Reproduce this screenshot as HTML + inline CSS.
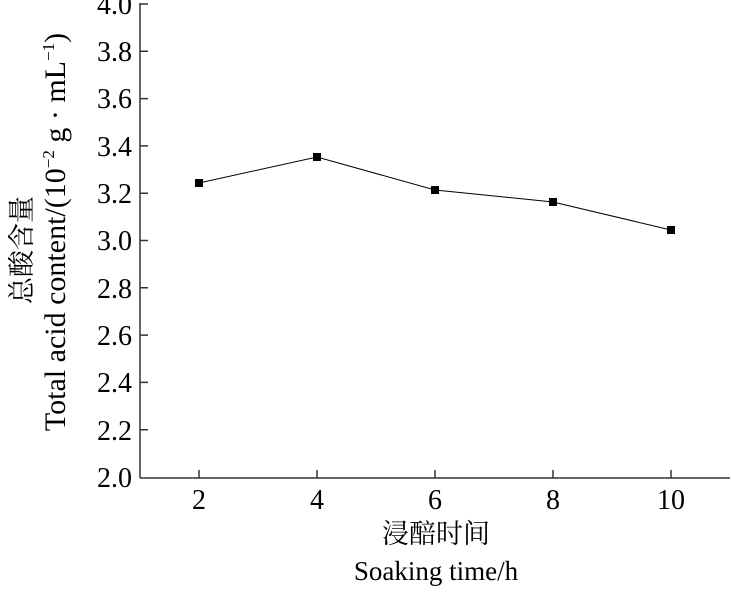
<!DOCTYPE html>
<html><head><meta charset="utf-8"><style>body{margin:0;background:#fff} svg{font-family:"Liberation Serif","Noto Serif CJK SC",serif}</style></head><body>
<svg width="731" height="587" xmlns="http://www.w3.org/2000/svg" font-size="27" fill="#000">
<g stroke="#333" stroke-width="1.5" fill="none">
<line x1="140" y1="3" x2="140" y2="478"/>
<line x1="140" y1="478" x2="730" y2="478"/>
<path d="M140 4h8M140 51.3h8M140 98.6h8M140 145.9h8M140 193.2h8M140 240.5h8M140 287.8h8M140 335.1h8M140 382.4h8M140 429.7h8"/>
<path d="M199 478v-8M317 478v-8M435 478v-8M553 478v-8M671 478v-8"/>
</g>
<g text-anchor="end" font-size="28">
<text x="132" y="14">4.0</text><text x="132" y="61">3.8</text><text x="132" y="108">3.6</text><text x="132" y="156">3.4</text><text x="132" y="203">3.2</text><text x="132" y="250">3.0</text><text x="132" y="298">2.8</text><text x="132" y="345">2.6</text><text x="132" y="392">2.4</text><text x="132" y="440">2.2</text><text x="132" y="487">2.0</text>
</g>
<g text-anchor="middle">
<text x="199" y="509" font-size="28">2</text><text x="317" y="509" font-size="28">4</text><text x="435" y="509" font-size="28">6</text><text x="553" y="509" font-size="28">8</text><text x="671" y="509" font-size="28">10</text>
<text x="436" y="543">浸醅时间</text>
<text x="436" y="580">Soaking time/h</text>
</g>
<polyline points="199,183 317,157 435,190 553,202 671,230" stroke="#000" stroke-width="1" fill="none"/>
<g><rect x="195" y="179" width="8" height="8"/><rect x="313" y="153" width="8" height="8"/><rect x="431" y="186" width="8" height="8"/><rect x="549" y="198" width="8" height="8"/><rect x="667" y="226" width="8" height="8"/></g>
<text transform="translate(31,250) rotate(-90)" text-anchor="middle">总酸含量</text>
<text transform="translate(65,232) rotate(-90)" text-anchor="middle" font-size="30">Total acid content/(10<tspan font-size="17" dy="-11">−2</tspan><tspan dy="11"> g · mL</tspan><tspan font-size="17" dy="-11">−1</tspan><tspan dy="11">)</tspan></text>
</svg>
</body></html>
